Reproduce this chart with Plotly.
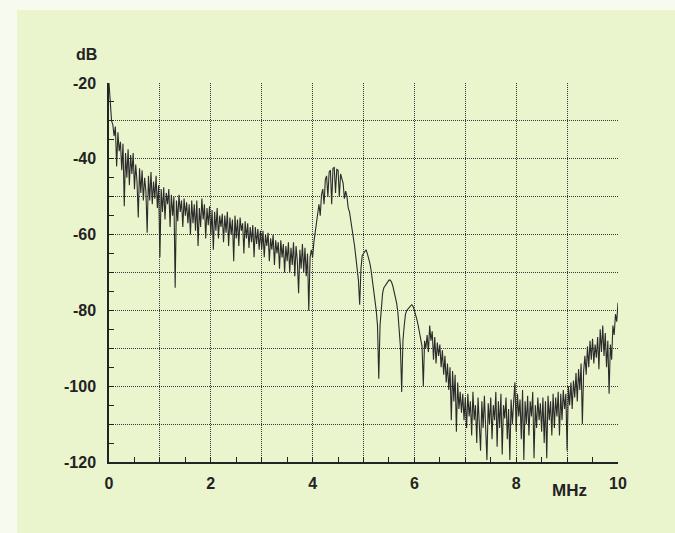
import numpy as np
import plotly.graph_objects as go

# Frequency grid (MHz), sampled every 0.025 MHz from 0 to 10
freq_step = 0.025

# Level (dB), in 0.5 MHz chunks (20 samples each)
level_00_05 = [-20, -26, -30, -31, -34, -31.5, -42, -33, -38, -35.5,
               -43, -36, -52.5, -38.5, -45, -37.5, -47, -39, -44, -38.5]
level_05_10 = [-48, -41.5, -46, -55.5, -42.5, -49, -43, -51, -45, -48.5,
               -59.5, -44.5, -51, -43.5, -52, -46, -50.5, -44.5, -53, -47]
level_10_15 = [-66, -48, -54, -47.5, -56, -49, -52, -48, -58, -49.5,
               -55, -50, -74, -51, -56.5, -49.5, -54, -51, -58, -50.5]
level_15_20 = [-55, -51.5, -57, -52, -60, -51, -57, -52, -59, -51,
               -63, -53, -58, -50.5, -56, -52, -61, -53, -57.5, -52.5]
level_20_25 = [-60, -53.5, -64, -54, -59, -53, -61, -55, -58, -54.5,
               -62, -55, -59.5, -54, -63, -55.5, -60, -56, -67, -55]
level_25_30 = [-61, -56, -63, -55.5, -59, -57, -65, -56.5, -61, -57,
               -63.5, -58, -62, -57.5, -66, -58, -62.5, -58.5, -64, -59]
level_30_35 = [-64, -59, -66, -60, -63, -59.5, -67, -61, -64, -60,
               -68, -61.5, -65, -62, -69, -61.5, -66, -62.5, -70, -63]
level_35_40 = [-67, -62, -70, -63.5, -68, -62, -71, -63, -67, -75.5,
               -64, -69, -62.5, -70, -63.5, -71, -65, -80, -66, -64]
level_40_45 = [-66, -62, -60, -57, -54.5, -52, -55, -49.5, -48, -52,
               -45.5, -44.5, -50, -43.5, -43, -52, -42.5, -42.3, -49, -42.8]
level_45_50 = [-43, -50, -44, -45, -46.5, -50.5, -48.5, -50, -53, -54,
               -56, -58, -60, -63, -66, -69, -72, -78.5, -69, -65.5]
level_50_55 = [-65, -64.5, -64, -65, -66, -67.5, -69.5, -72, -74.5, -77,
               -80, -84, -98, -84, -78.5, -75.5, -74, -73.5, -73, -72.5]
level_55_60 = [-72, -72, -72.5, -73.5, -75, -76.5, -78, -80.5, -84, -89.5,
               -101.5, -88, -84, -81, -80, -79.5, -79, -78.8, -78.5, -79]
level_60_65 = [-80, -81, -82.5, -84, -86, -88, -89.5, -100, -88, -90,
               -86.5, -91, -84, -88, -85.5, -93, -87, -94, -88.5, -92]
level_65_70 = [-89, -95, -90.5, -97, -92, -99, -94, -101, -95, -109,
               -96, -104, -97, -112, -99, -106, -101.5, -107, -102, -109]
level_70_75 = [-103, -111, -102, -108, -104, -113, -101.5, -109, -105, -115,
               -103, -110, -117, -104, -111, -102.5, -113, -119.5, -104.5, -110]
level_75_80 = [-103, -114, -105, -109, -101.5, -116, -104, -111, -102, -118,
               -105, -108.5, -103, -114, -106, -119.5, -103.5, -110, -104, -99]
level_80_85 = [-112, -102, -108, -103.5, -114, -101, -119.5, -104, -110, -102.5,
               -113, -104, -108, -101.5, -119, -105, -111, -103, -109, -104.5]
level_85_90 = [-112, -103, -115, -104, -119, -102.5, -109, -104, -113, -102,
               -111, -103, -108, -101.5, -113, -102, -109, -101, -106, -102]
level_90_95 = [-117, -100, -105, -99, -106, -98.5, -103, -96.5, -104, -95.5,
               -101, -94, -110, -96, -92, -97, -89.5, -95, -88, -93]
level_95_100 = [-87.5, -94, -89, -92.5, -87, -95.5, -85, -91, -84, -92,
                -86, -95, -88, -102, -89, -93, -84, -86.5, -81, -83, -78]

level_db = (level_00_05 + level_05_10 + level_10_15 + level_15_20 + level_20_25
            + level_25_30 + level_30_35 + level_35_40 + level_40_45 + level_45_50
            + level_50_55 + level_55_60 + level_60_65 + level_65_70 + level_70_75
            + level_75_80 + level_80_85 + level_85_90 + level_90_95 + level_95_100)
freq_mhz = np.arange(len(level_db)) * freq_step

x_tick_vals = list(range(0, 11))
x_tick_text = ["0", "", "2", "", "4", "", "6", "", "8", "", "10"]
y_tick_vals = list(range(-120, -19, 10))
y_tick_text = ["-120", "", "-100", "", "-80", "", "-60", "", "-40", "", "-20"]

BG = "#ebf5cd"
INK = "#232323"
GRID = "#383838"
FONT = "Liberation Sans, Arial, sans-serif"

fig = go.Figure()
fig.add_trace(go.Scatter(
    x=freq_mhz, y=level_db, mode="lines",
    line=dict(color="#2b2b2b", width=1.1),
    hoverinfo="skip", showlegend=False,
))

fig.update_layout(
    width=675, height=533,
    margin=dict(l=109, r=57, t=83, b=71),
    paper_bgcolor=BG, plot_bgcolor=BG,
    font=dict(family=FONT, color=INK),
    showlegend=False,
)

fig.update_xaxes(
    range=[0, 10], tickvals=x_tick_vals, ticktext=x_tick_text,
    showgrid=True, gridcolor=GRID, gridwidth=1, griddash="1px,1px",
    showline=True, linecolor=INK, linewidth=2,
    ticks="inside", ticklen=5, tickcolor=INK, tickwidth=1,
    minor=dict(dtick=0.5, tick0=0, ticks="inside", ticklen=5, tickcolor=INK, showgrid=False),
    tickfont=dict(family=FONT, size=16, color=INK, weight="bold"),
    zeroline=False, ticklabelstandoff=6,
)
fig.update_yaxes(
    range=[-120, -20], tickvals=y_tick_vals, ticktext=y_tick_text,
    showgrid=True, gridcolor=GRID, gridwidth=1, griddash="1px,1px",
    showline=True, linecolor=INK, linewidth=1.5,
    ticks="inside", ticklen=5, tickcolor=INK, tickwidth=1,
    minor=dict(dtick=5, tick0=-120, ticks="inside", ticklen=5, tickcolor=INK, showgrid=False),
    tickfont=dict(family=FONT, size=16, color=INK, weight="bold"),
    zeroline=False, ticklabelstandoff=8,
)

# white scan margins on the top and left of the page
fig.add_shape(type="rect", xref="paper", yref="paper",
              x0=-0.2142, x1=-0.1807, y0=-0.19, y1=1.22,
              fillcolor="#f7faef", line=dict(width=0), layer="below")
fig.add_shape(type="rect", xref="paper", yref="paper",
              x0=-0.2142, x1=1.12, y0=1.1926, y1=1.22,
              fillcolor="#f7faef", line=dict(width=0), layer="below")

fig.add_annotation(text="dB", xref="paper", yref="paper", x=-0.045, y=1.075,
                   xanchor="center", yanchor="middle",
                   showarrow=False, font=dict(family=FONT, size=16, color=INK, weight="bold"))
fig.add_annotation(text="MHz", xref="paper", yref="paper", x=0.904, y=-0.074,
                   xanchor="center", yanchor="middle",
                   showarrow=False, font=dict(family=FONT, size=17, color=INK, weight="bold"))

fig.write_html("out.html")
